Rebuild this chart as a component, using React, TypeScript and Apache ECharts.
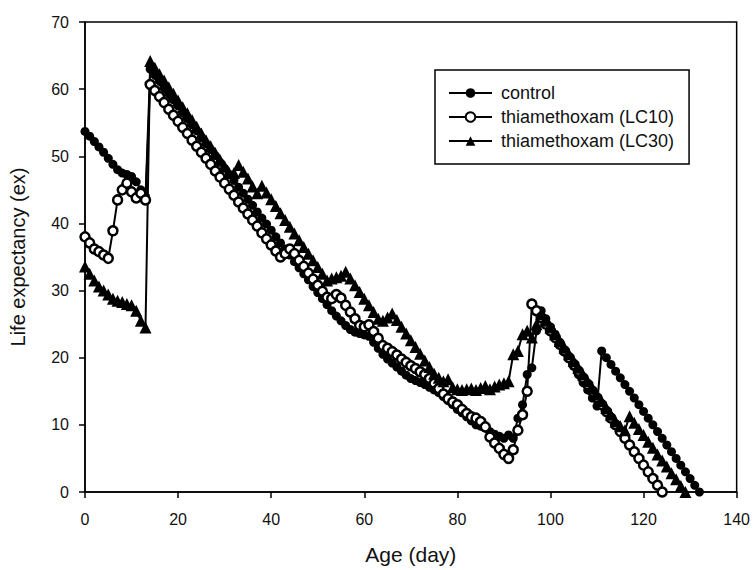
import React, { useEffect, useRef } from "react";
import * as echarts from "echarts";

// Age (day) starts at 0 for every series; each array holds one value per day.
const controlEx = [
  53.7, 53.0, 52.2, 51.4, 50.6, 49.7, 48.8, 48.0, 47.5, 47.3, 47.0, 46.2, 45.0, 44.0,
  63.0, 62.1, 61.2, 60.2, 59.3, 58.4, 57.5, 56.5, 55.6, 54.7, 53.8, 52.8, 51.9, 51.0, 50.1, 49.1, 48.2,
  47.3, 46.4, 45.4, 44.5, 43.6, 42.7, 41.7, 40.8, 39.9, 39.0, 38.0, 37.1, 36.2, 35.3, 34.3, 33.4, 32.5, 31.6, 30.6, 29.7,
  28.8, 27.9, 27.0, 26.2, 25.5, 24.8, 24.2, 23.8,
  23.6, 23.4, 23.2, 22.3, 21.4, 20.5, 19.8, 19.2, 18.6, 18.0, 17.4, 16.9, 16.6, 16.3, 16.0, 15.6,
  15.2, 14.8, 14.2, 13.6, 13.0, 12.3, 11.8, 11.2, 10.6, 10.0, 9.8, 9.5, 9.0, 8.6, 8.3, 8.0,
  8.5, 8.0, 11.0, 13.0, 17.5, 18.5, 24.0, 27.0, 25.8, 24.6, 23.5, 22.3, 21.1, 19.9, 18.7, 17.5, 16.3, 15.2, 14.0, 12.8,
  21, 20, 19, 18, 17, 16, 15, 14, 13, 12, 11, 10, 9, 8, 7, 6, 5, 4, 3, 2, 1, 0,
];

const lc10Ex = [
  38.0, 37.1, 36.2, 35.8, 35.3, 34.8, 38.9, 43.5, 45.0, 46.0, 44.7, 43.8, 44.5, 43.5,
  60.7, 59.8, 58.9, 58.0, 57.0, 56.1, 55.2, 54.3, 53.4, 52.4, 51.5, 50.6, 49.7, 48.8, 47.8,
  46.9, 46.0, 45.1, 44.2, 43.2, 42.3, 41.4, 40.5, 39.6, 38.6, 37.7, 36.8, 35.9, 35.0,
  35.5, 36.2, 35.5, 34.5, 33.6, 32.6, 31.7, 30.8, 29.9, 29.0, 28.8, 29.4, 28.9, 27.8, 26.8,
  25.8, 24.8, 24.6, 24.9, 23.9, 22.9, 21.8, 21.4, 20.9, 20.4, 19.8, 19.3, 18.8, 18.4, 17.9,
  17.5, 16.9, 16.2, 15.4, 14.6, 13.9, 13.4, 13.0, 12.3, 11.7, 11.2, 11.0, 10.5, 9.7, 8.2,
  7.3, 6.5, 5.6, 5.0, 6.3, 9.2, 11.5, 15.0,
  28, 27, 26, 25, 24, 23, 22, 21, 20, 19, 18, 17, 16, 15, 14, 13, 12, 11, 10, 9, 8, 7, 6, 5, 4, 3, 2, 1, 0,
];

const lc30Ex = [
  33.6, 32.5, 31.5, 30.6, 30.0, 29.4, 28.8, 28.5, 28.3, 28.0, 27.8, 27.0, 25.5, 24.5,
  64.2, 63.2, 62.2, 61.3, 60.3, 59.3, 58.3, 57.3, 56.4, 55.4, 54.4, 53.4, 52.4, 51.5, 50.5, 49.5, 48.5, 47.5,
  47.5, 48.7, 47.7, 46.7, 45.5, 44.5, 45.6, 44.6, 43.6, 42.6, 41.5, 40.5, 39.5, 38.5, 37.5,
  36.5, 35.5, 34.5, 33.5, 32.5, 31.5,
  31.8, 32.0, 32.2, 32.8, 31.8, 30.8, 29.8, 28.8, 27.8, 26.8, 25.8, 25.5, 26.0, 26.6, 25.6,
  24.6, 23.6, 22.6, 21.6, 20.6, 19.6, 18.6, 17.6, 17.0, 16.5, 16.8, 15.6, 15.3, 15.2, 15.3,
  15.4, 15.2, 15.5, 15.8, 15.3, 15.7, 16.0, 16.2, 16.5,
  20.5, 21.0, 23.5, 24.0, 23.0, 25.0, 26.5,
  25.5, 24.5, 23.5, 22.5, 21.5, 20.5, 19.5, 18.5, 17.5, 16.5, 15.5, 14.5, 13.5, 12.5, 11.5,
  10.5, 9.8, 9.2, 11.3, 10.3, 9.4, 8.5, 7.5, 6.6, 5.6, 4.7, 3.8, 2.8, 1.9, 0.9, 0,
];

const seriesNames = ["control", "thiamethoxam (LC10)", "thiamethoxam (LC30)"];
const xTitle = "Age (day)";
const yTitle = "Life expectancy (ex)";

const toPairs = (vals: number[]) => vals.map((v, day) => [day, v]);

const FONT = "'Liberation Sans', Arial, sans-serif";
const INK = "#111";

export default function App() {
  const ref = useRef<HTMLDivElement>(null);
  useEffect(() => {
    if (!ref.current) return;
    const chart = echarts.init(ref.current, null, { renderer: "svg" });
    const lineStyle = { color: "#000", width: 2 };
    chart.setOption({
      animation: false,
      backgroundColor: "#fff",
      textStyle: { fontFamily: FONT, color: INK },
      grid: {
        left: 84,
        right: 16,
        top: 22,
        bottom: 78,
        show: true,
        borderColor: "#000",
        borderWidth: 1.5,
      },
      legend: {
        left: 435,
        top: 70,
        orient: "vertical",
        data: seriesNames,
        itemWidth: 43,
        itemHeight: 12,
        itemGap: 6,
        padding: [14, 15, 14, 13],
        borderColor: "#000",
        borderWidth: 1.5,
        textStyle: {
          fontFamily: FONT,
          fontSize: 18,
          lineHeight: 18,
          color: INK,
          padding: [0, 0, 0, 4],
        },
      },
      xAxis: {
        type: "value",
        min: 0,
        max: 140,
        interval: 20,
        name: xTitle,
        nameLocation: "middle",
        nameGap: 52,
        nameTextStyle: { fontFamily: FONT, fontSize: 21, color: INK },
        axisLine: { show: true, lineStyle: { color: "#000", width: 1.5 } },
        axisTick: { show: true, inside: false, length: 6, lineStyle: { color: "#000", width: 1.5 } },
        axisLabel: { fontFamily: FONT, fontSize: 16, color: INK, margin: 19 },
        splitLine: { show: false },
      },
      yAxis: {
        type: "value",
        min: 0,
        max: 70,
        interval: 10,
        name: yTitle,
        nameLocation: "middle",
        nameGap: 57,
        nameTextStyle: { fontFamily: FONT, fontSize: 20, color: INK },
        axisLine: { show: true, lineStyle: { color: "#000", width: 1.5 } },
        axisTick: { show: true, inside: false, length: 6, lineStyle: { color: "#000", width: 1.5 } },
        axisLabel: { fontFamily: FONT, fontSize: 16, color: INK, margin: 16 },
        splitLine: { show: false },
      },
      series: [
        {
          name: seriesNames[0],
          type: "line",
          data: toPairs(controlEx),
          symbol: "circle",
          symbolSize: 9,
          showAllSymbol: true,
          lineStyle,
          itemStyle: { color: "#000", borderColor: "#000", borderWidth: 0 },
        },
        {
          name: seriesNames[1],
          type: "line",
          data: toPairs(lc10Ex),
          symbol: "circle",
          symbolSize: 9,
          showAllSymbol: true,
          lineStyle,
          itemStyle: { color: "#fff", borderColor: "#000", borderWidth: 2.5 },
        },
        {
          name: seriesNames[2],
          type: "line",
          data: toPairs(lc30Ex),
          symbol: "triangle",
          symbolSize: 12,
          showAllSymbol: true,
          lineStyle,
          itemStyle: { color: "#000", borderColor: "#000", borderWidth: 0 },
        },
      ],
    });
    return () => chart.dispose();
  }, []);
  return (
    <div
      ref={ref}
      style={{ position: "fixed", left: 0, top: 0, width: 753, height: 570, background: "#fff" }}
    />
  );
}
